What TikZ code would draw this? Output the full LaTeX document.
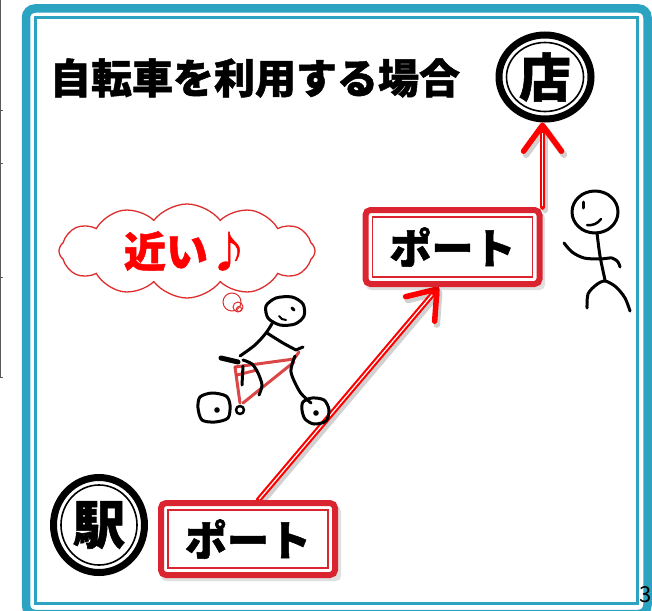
\documentclass[tikz,border=0pt]{standalone}
\usepackage{fontspec}
\setmainfont{Noto Sans CJK JP}
\newfontfamily\heavyjp{Noto Sans CJK JP}[BoldFeatures={FakeBold=1.2}]
\usetikzlibrary{arrows.meta,calc,shapes.geometric,shapes.symbols,backgrounds}

\definecolor{frameteal}{RGB}{44,163,193}
\definecolor{boxred}{RGB}{218,37,48}
\definecolor{arrowred}{RGB}{255,0,0}
\definecolor{cloudred}{RGB}{222,45,45}
\definecolor{bikered}{RGB}{215,50,50}

\begin{document}
\begin{tikzpicture}[x=1pt,y=-1pt,
  fig/.style={black, line width=3pt, line cap=round, line join=round},
  bikeframe/.style={bikered, line width=3pt, line cap=round, line join=round, opacity=.9},
  ringouter/.style={ellipse, draw=black, line width=7pt, inner sep=0pt,
    font=\heavyjp\bfseries\fontsize{52}{56}\selectfont},
  ringinner/.style={ellipse, draw=black, line width=1.6pt, inner sep=0pt},
  portbox/.style={draw=boxred, line width=6pt, rounded corners=5pt, fill=white,
    minimum width=174pt, minimum height=72pt, inner sep=0pt,
    font=\heavyjp\bfseries\fontsize{42}{46}\selectfont},
  portinner/.style={boxred, line width=1.5pt},
  bubble/.style={circle, draw=cloudred, line width=1pt, inner sep=0pt},
  arrowline/.style={arrowred, line width=5.5pt, line cap=round,
    -{Straight Barb[length=26pt,width=38pt,line width=5.5pt,round]}},
  arrowstripe/.style={white, line width=1.2pt, shorten >=10pt, shorten <=1pt},
  arrowshadow/.style={black, opacity=.18, line width=6.5pt, line cap=round,
    -{Straight Barb[length=26pt,width=38pt,line width=6.5pt,round]},
    transform canvas={shift={(2.5,3)}}}]

\useasboundingbox (0,0) rectangle (652,610);

% margin rule on the far left
\draw[black!65, line width=1pt] (0.5,0) -- (0.5,377);
\foreach \ty in {110,163,277,377} \draw[black!65, line width=1pt] (0,\ty) -- (2.5,\ty);

% double teal frame
\draw[frameteal, line width=8.5pt, rounded corners=9pt] (26,8.5) rectangle (647.5,614);
\draw[frameteal, line width=3pt] (35,17.5) rectangle (637.5,603.5);

% title
\node[font=\heavyjp\bfseries\fontsize{41}{45}\selectfont, inner sep=0pt] (title) at (255,78) {自転車を利用する場合};

% shop and station marks
\node[ringouter, minimum width=92pt, minimum height=84pt] (ten) at (545,77) {店};
\node[ringinner, minimum width=77pt, minimum height=69pt] (tenring) at (ten.center) {};
\node[ringouter, minimum width=91pt, minimum height=95pt] (eki) at (99,525) {駅};
\node[ringinner, minimum width=76pt, minimum height=80pt] (ekiring) at (eki.center) {};

% port boxes with their soft shadows
\fill[black, opacity=.12, rounded corners=5pt] (161,506) rectangle (341,581);
\fill[black, opacity=.12, rounded corners=5pt] (366,213) rectangle (545,290);
\node[portbox] (port1) at (248,539) {ポート};
\draw[portinner] ($(port1.south west)+(10,-10)$) rectangle ($(port1.north east)+(-10,10)$);
\node[portbox, minimum height=74pt] (port2) at (452.5,247) {ポート};
\draw[portinner] ($(port2.south west)+(10,-10)$) rectangle ($(port2.north east)+(-10,10)$);

% arrows between the ports, kept behind the boxes
\begin{scope}[on background layer]
\draw[arrowshadow] (port1.75) -- (port2.251);
\draw[arrowshadow] (port2.north east) -- (port2.north east |- ten.south);
\draw[arrowline] (port1.75) -- (port2.251);
\draw[arrowstripe] (port1.75) -- (port2.251);
\draw[arrowline] (port2.north east) -- (port2.north east |- ten.south);
\draw[arrowstripe] (port2.north east) -- (port2.north east |- ten.south);
\end{scope}

% thought cloud
\node[cloud, cloud puffs=12, cloud puff arc=105, cloud ignores aspect,
      minimum width=256pt, minimum height=94pt, draw=cloudred, line width=1.3pt,
      inner sep=0pt, text=arrowred, font=\heavyjp\bfseries\fontsize{42}{46}\selectfont]
      (cloud) at (187,251) {近い♪};
\node[bubble, minimum size=18pt] (bubA) at (232,302) {};
\node[bubble, minimum size=10pt] (bubB) at (238,307) {};
\node[bubble, minimum size=5pt] (bubC) at (239,309) {};

% cyclist: red frame
\draw[bikeframe] (235,367) -- (294,359) -- (299,352);
\draw[bikeframe] (294,362) -- (243,403);
\draw[bikeframe] (235,367) -- (240,403);
\draw[bikeframe] (237,375) -- (257,370);

% cyclist: rider and wheels
\draw[fig] plot[smooth cycle] coordinates {(266,306) (276,298) (292,297) (303,304) (304,316) (295,324) (280,325) (268,318)};
\draw[fig] (292,308) -- (294,310);
\draw[fig, line width=2pt] (279,316) to[bend right=30] (286,320);
\draw[fig] plot[smooth] coordinates {(273,322) (266,333) (255,345) (240,356)};
\draw[fig] plot[smooth] coordinates {(267,333) (283,343) (296,350)};
\draw[fig] (296,350) -- (303,347);
\draw[fig, line width=5pt] (221,358) -- (238,362);
\draw[fig] plot[smooth] coordinates {(243,360) (252,364) (258,373) (262,385) (259,395)};
\draw[fig] (243,366) -- (242,385);
\draw[fig] plot[smooth] coordinates {(295,356) (291,372) (300,392) (311,403)};
\draw[fig] plot[smooth cycle] coordinates {(200,397) (212,393) (226,396) (230,405) (228,418) (215,422) (202,420) (198,408)};
\fill (217,410) circle [radius=2.8pt];
\draw[fig, line width=2.5pt] (240,410) circle [radius=4pt];
\draw[fig] plot[smooth cycle] coordinates {(303,402) (312,398) (324,400) (329,410) (326,421) (314,424) (305,419) (302,410)};
\fill (316,413) circle [radius=2.8pt];

% walker
\draw[fig] (595,212) ellipse [x radius=23pt, y radius=21pt];
\draw[fig] (583,202) -- (583,208);
\draw[fig, line width=2.5pt] (587,225) to[bend right=30] (601,219);
\draw[fig] plot[smooth] coordinates {(597,233) (600,256) (605,280)};
\draw[fig] plot[smooth] coordinates {(564,243) (572,252) (584,258) (600,259) (612,258) (618,262) (620,267)};
\draw[fig] plot[smooth] coordinates {(587,308) (588,294) (596,285) (605,281) (616,287) (625,298) (630,311)};

% page number
\node[anchor=east, inner sep=0pt, font=\fontsize{22}{22}\selectfont] (pagenum) at (652,595) {3};
\end{tikzpicture}
\end{document}
